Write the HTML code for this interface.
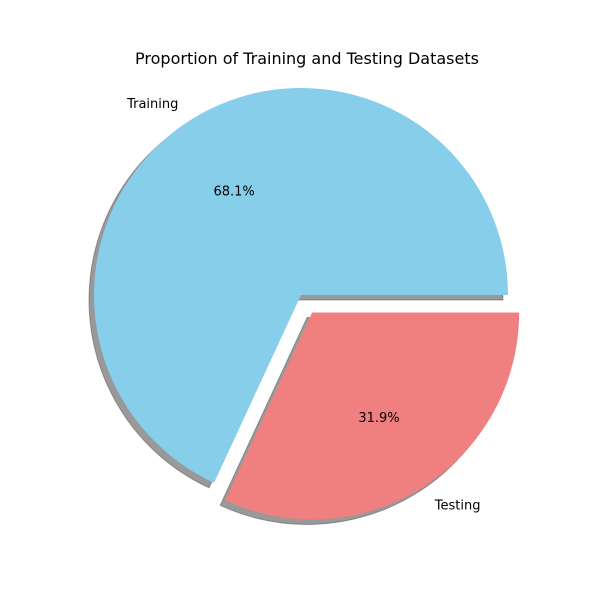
<!DOCTYPE html>
<html><head><meta charset="utf-8"><style>body{margin:0;background:#fff}svg{display:block}</style></head>
<body>
<svg id="chart" width="600" height="600" font-family="DejaVu Sans, Liberation Sans, sans-serif">
<rect width="600" height="600" fill="#fff"/>
<text x="307" y="64" text-anchor="middle" font-size="16">Proportion of Training and Testing Datasets</text>
<g id="shadows"></g><g id="slices"></g><g id="labels"></g>
</svg>
<script>
const categories = ["Training", "Testing"];
const values = [68.1, 31.9];
const colors = ["#87ceeb", "#f08080"];
const explode = [0, 0.1];
const pctLabels = ["68.1%", "31.9%"];

const NS = "http://www.w3.org/2000/svg";
const cx = 301, cy = 295, R = 207;
const total = values.reduce((a, b) => a + b, 0);
const sh = document.getElementById("shadows"), sl = document.getElementById("slices"), lb = document.getElementById("labels");
function pt(x, y, r, a) { return [x + r * Math.cos(a), y - r * Math.sin(a)]; }
function wedge(x, y, a0, a1) {
  const p0 = pt(x, y, R, a0), p1 = pt(x, y, R, a1);
  const large = (a1 - a0) > Math.PI ? 1 : 0;
  return `M${x},${y} L${p0[0]},${p0[1]} A${R},${R} 0 ${large} 0 ${p1[0]},${p1[1]} Z`;
}
let ang = 0;
values.forEach((v, i) => {
  const a0 = ang, a1 = ang + v / total * 2 * Math.PI; ang = a1;
  const mid = (a0 + a1) / 2;
  const [x, y] = pt(cx, cy, explode[i] * R, mid);
  const s = document.createElementNS(NS, "path");
  s.setAttribute("d", wedge(x - 5, y + 5, a0, a1));
  s.setAttribute("fill", "#000"); s.setAttribute("fill-opacity", "0.4");
  s.setAttribute("stroke", "#555"); s.setAttribute("stroke-opacity", "0.5");
  
  
  sh.appendChild(s);
  const p = document.createElementNS(NS, "path");
  p.setAttribute("d", wedge(x, y, a0, a1));
  p.setAttribute("fill", colors[i]);
  
  
  sl.appendChild(p);
  const [lx, ly] = pt(x, y, 1.1 * R, mid);
  const t = document.createElementNS(NS, "text");
  t.setAttribute("x", lx); t.setAttribute("y", ly + 5);
  t.setAttribute("font-size", "13");
  t.setAttribute("text-anchor", Math.cos(mid) < 0 ? "end" : "start");
  t.textContent = categories[i];
  
  
  lb.appendChild(t);
  const [px, py] = pt(x, y, 0.6 * R, mid);
  const q = document.createElementNS(NS, "text");
  q.setAttribute("x", px); q.setAttribute("y", py + 5);
  q.setAttribute("font-size", "13"); q.setAttribute("text-anchor", "middle");
  q.textContent = pctLabels[i];
  
  
  lb.appendChild(q);
});
</script>
</body></html>
